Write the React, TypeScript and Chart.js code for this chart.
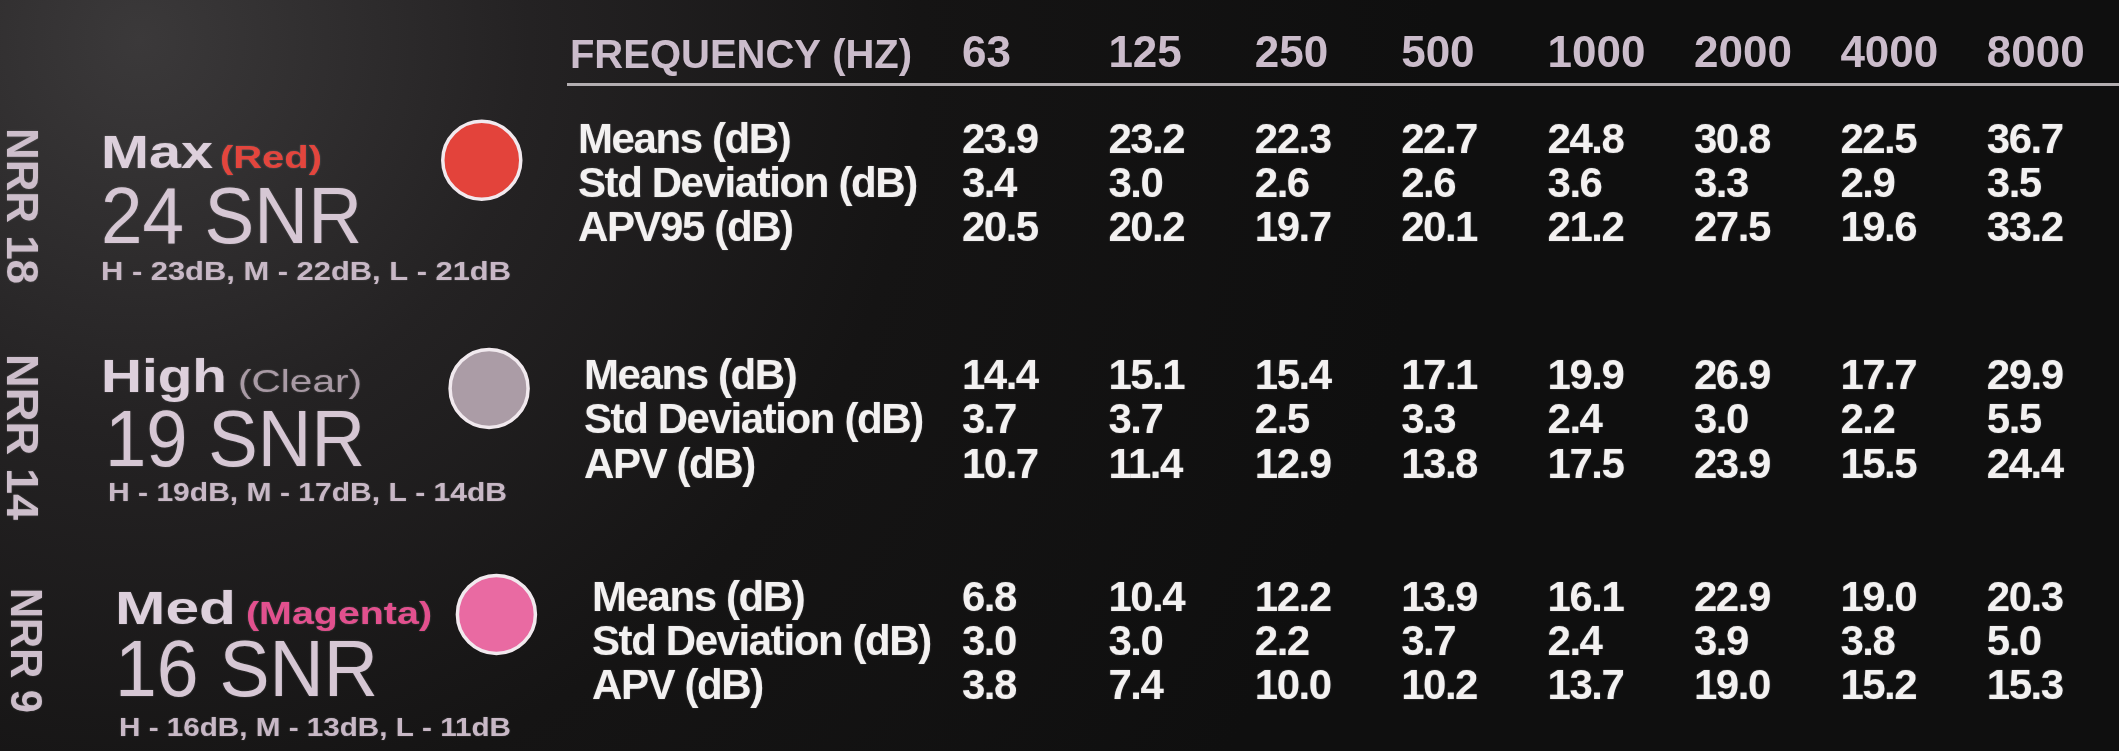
import React, { useEffect, useRef } from "react";
import { Chart, registerables } from "chart.js";

Chart.register(...registerables);

// ---------- data ----------
const FREQUENCIES = ["63", "125", "250", "500", "1000", "2000", "4000", "8000"];
const HEADER_LABEL = "FREQUENCY (HZ)";

const GROUP_NAMES = ["Max", "High", "Med"];
const GROUP_TAGS = ["(Red)", "(Clear)", "(Magenta)"];
const SNR_LABELS = ["24 SNR", "19 SNR", "16 SNR"];
const HML_LABELS = [
  "H - 23dB, M - 22dB, L - 21dB",
  "H - 19dB, M - 17dB, L - 14dB",
  "H - 16dB, M - 13dB, L - 11dB",
];
const NRR_LABELS = ["NRR 18", "NRR 14", "NRR 9"];

const MAX_ROW_LABELS = ["Means (dB)", "Std Deviation (dB)", "APV95 (dB)"];
const HIGH_ROW_LABELS = ["Means (dB)", "Std Deviation (dB)", "APV (dB)"];
const MED_ROW_LABELS = ["Means (dB)", "Std Deviation (dB)", "APV (dB)"];

const MAX_MEANS = [23.9, 23.2, 22.3, 22.7, 24.8, 30.8, 22.5, 36.7];
const MAX_STD = [3.4, 3.0, 2.6, 2.6, 3.6, 3.3, 2.9, 3.5];
const MAX_APV = [20.5, 20.2, 19.7, 20.1, 21.2, 27.5, 19.6, 33.2];

const HIGH_MEANS = [14.4, 15.1, 15.4, 17.1, 19.9, 26.9, 17.7, 29.9];
const HIGH_STD = [3.7, 3.7, 2.5, 3.3, 2.4, 3.0, 2.2, 5.5];
const HIGH_APV = [10.7, 11.4, 12.9, 13.8, 17.5, 23.9, 15.5, 24.4];

const MED_MEANS = [6.8, 10.4, 12.2, 13.9, 16.1, 22.9, 19.0, 20.3];
const MED_STD = [3.0, 3.0, 2.2, 3.7, 2.4, 3.9, 3.8, 5.0];
const MED_APV = [3.8, 7.4, 10.0, 10.2, 13.7, 19.0, 15.2, 15.3];

const CIRCLE_COLORS = ["#e3433b", "#ab9ca6", "#e96aa2"];
const TAG_COLORS = ["#e3453d", "#a99aa5", "#e2508e"];

// ---------- layout ----------
const W = 2119;
const H = 751;
const FONT = "'Liberation Sans', Arial, sans-serif";
const GROUP_OFFSETS = [0.05, 5.4, 10.42];
const X_MIN = -2.691;
const X_MAX = 7.903;
const HEADER_X = -2.678;
const Y_MIN = -1.159;
const Y_MAX = 13.934;
const CIRCLE_XS = [-3.28, -3.23, -3.18];
const CIRCLE_YS = [0.55, 5.72, 10.84];
const CIRCLE_R = 39;
const ROW_LABEL_X = [-2.623, -2.582, -2.527];

const LEFT_BLOCK = [
  { tx: 101, tb: 168, tw: 112, gx: 220, gw: 102, gBold: true, sx: 101, sb: 243, sw: 261, hx: 101, hb: 280, hw: 410, ncx: 23, ntop: 128, nlen: 156 },
  { tx: 101, tb: 392, tw: 126, gx: 238, gw: 124, gBold: false, sx: 105, sb: 466, sw: 260, hx: 108, hb: 501, hw: 399, ncx: 23, ntop: 354, nlen: 166 },
  { tx: 115, tb: 624, tw: 121, gx: 246, gw: 186, gBold: true, sx: 115, sb: 696, sw: 263, hx: 119, hb: 736, hw: 392, ncx: 27, ntop: 588, nlen: 125 },
];

const GROUP_ROWS = [
  { labels: MAX_ROW_LABELS, rows: [MAX_MEANS, MAX_STD, MAX_APV] },
  { labels: HIGH_ROW_LABELS, rows: [HIGH_MEANS, HIGH_STD, HIGH_APV] },
  { labels: MED_ROW_LABELS, rows: [MED_MEANS, MED_STD, MED_APV] },
];

function fitText(ctx: CanvasRenderingContext2D, text: string, x: number, y: number, width: number) {
  const m = ctx.measureText(text).width;
  const s = m > 0 ? width / m : 1;
  ctx.save();
  ctx.translate(x, y);
  ctx.scale(s, 1);
  ctx.fillText(text, 0, 0);
  ctx.restore();
}

const backgroundPlugin = {
  id: "bgPhoto",
  beforeDraw(chart: any) {
    const ctx = chart.ctx as CanvasRenderingContext2D;
    ctx.save();
    const g = ctx.createRadialGradient(140, 40, 0, 140, 40, 1300);
    g.addColorStop(0, "#3b393a");
    g.addColorStop(0.3, "#242223");
    g.addColorStop(0.6, "#151414");
    g.addColorStop(1, "#0f0f0f");
    ctx.fillStyle = g;
    ctx.fillRect(0, 0, chart.width, chart.height);
    ctx.restore();
  },
};

const tablePlugin = {
  id: "tableText",
  afterDatasetsDraw(chart: any) {
    const ctx = chart.ctx as CanvasRenderingContext2D;
    const xs = chart.scales.x;
    const ys = chart.scales.y;
    const fullArea = { left: 0, top: 0, right: chart.width, bottom: chart.height };

    // colour swatches (bubble points) sit left of the table area: draw them with a full-canvas area
    chart.data.datasets.forEach((ds: any, di: number) => {
      if (!ds.isSwatch) return;
      const meta = chart.getDatasetMeta(di);
      meta.data.forEach((el: any) => el.draw(ctx, fullArea));
    });

    ctx.save();
    ctx.textAlign = "left";
    ctx.textBaseline = "alphabetic";
    ctx.shadowColor = "rgba(255,255,255,0.25)";
    ctx.shadowBlur = 2;

    // value cells, positioned by their (invisible) points
    ctx.font = `bold 42px ${FONT}`;
    (ctx as any).letterSpacing = "-1.5px";
    ctx.fillStyle = "#f3f1f1";
    chart.data.datasets.forEach((ds: any, di: number) => {
      if (!ds.isCell) return;
      const meta = chart.getDatasetMeta(di);
      meta.data.forEach((pt: any, j: number) => {
        const v = ds.data[j].v as number;
        ctx.fillText(v.toFixed(1), pt.x, pt.y + 15);
      });
    });

    // row labels
    ctx.font = `bold 42px ${FONT}`;
    (ctx as any).letterSpacing = "-1.4px";
    GROUP_ROWS.forEach((grp, gi) => {
      grp.labels.forEach((lab, ri) => {
        const x = xs.getPixelForValue(ROW_LABEL_X[gi]);
        const y = ys.getPixelForValue(GROUP_OFFSETS[gi] + ri);
        ctx.fillText(lab, x, y + 15);
      });
    });
    (ctx as any).letterSpacing = "0px";

    // left block titles
    LEFT_BLOCK.forEach((b, gi) => {
      ctx.fillStyle = "#ddd0dc";
      ctx.font = `bold 46px ${FONT}`;
      fitText(ctx, GROUP_NAMES[gi], b.tx, b.tb, b.tw);

      ctx.fillStyle = TAG_COLORS[gi];
      ctx.font = `${b.gBold ? "bold " : ""}32px ${FONT}`;
      fitText(ctx, GROUP_TAGS[gi], b.gx, b.tb, b.gw);

      ctx.fillStyle = "#d6c7d4";
      ctx.font = `80px ${FONT}`;
      fitText(ctx, SNR_LABELS[gi], b.sx, b.sb, b.sw);

      ctx.fillStyle = "#c8b8c6";
      ctx.font = `bold 26px ${FONT}`;
      fitText(ctx, HML_LABELS[gi], b.hx, b.hb, b.hw);

      ctx.fillStyle = "#cdbecb";
      ctx.font = `bold 44px ${FONT}`;
      const cap = 32;
      ctx.save();
      ctx.translate(b.ncx - cap / 2, b.ntop);
      ctx.rotate(Math.PI / 2);
      fitText(ctx, NRR_LABELS[gi], 0, 0, b.nlen);
      ctx.restore();
    });

    ctx.restore();
  },
};

export default function App() {
  const ref = useRef<HTMLCanvasElement | null>(null);

  useEffect(() => {
    document.body.style.margin = "0";
    document.body.style.background = "#0f0f0f";
    const canvas = ref.current;
    if (!canvas) return;

    const datasets: any[] = [];
    GROUP_ROWS.forEach((grp, gi) => {
      grp.rows.forEach((row, ri) => {
        datasets.push({
          type: "scatter",
          label: `${GROUP_NAMES[gi]} – ${grp.labels[ri]}`,
          isCell: true,
          data: row.map((v, i) => ({ x: i, y: GROUP_OFFSETS[gi] + ri, v })),
          pointRadius: 0,
          pointHoverRadius: 0,
          showLine: false,
        });
      });
    });
    datasets.push({
      type: "bubble",
      label: "Colour",
      isSwatch: true,
      data: GROUP_NAMES.map((_, gi) => ({ x: CIRCLE_XS[gi], y: CIRCLE_YS[gi], r: CIRCLE_R })),
      backgroundColor: CIRCLE_COLORS,
      borderColor: "#f1e9ee",
      borderWidth: 3.5,
      hoverRadius: 0,
      clip: false,
    });

    const chart = new Chart(canvas, {
      type: "scatter",
      data: { datasets },
      options: {
        responsive: false,
        animation: false,
        events: [],
        layout: { autoPadding: false, padding: { left: 568, right: 0, top: 24, bottom: 0 } },
        plugins: { legend: { display: false }, tooltip: { enabled: false } },
        scales: {
          x: {
            type: "linear",
            position: "top",
            min: X_MIN,
            max: X_MAX,
            afterBuildTicks: (s: any) => {
              s.ticks = [{ value: HEADER_X }, ...FREQUENCIES.map((_, i) => ({ value: i }))];
            },
            ticks: {
              autoSkip: false,
              maxRotation: 0,
              minRotation: 0,
              align: "start",
              padding: 4,
              color: "#cbbccb",
              callback: (_v: any, idx: number) => (idx === 0 ? HEADER_LABEL : FREQUENCIES[idx - 1]),
              font: (c: any) =>
                c.index === 0
                  ? { family: FONT, size: 40, weight: "bold" }
                  : { family: FONT, size: 44, weight: "bold" },
            },
            grid: { display: false, drawTicks: false },
            border: { display: true, color: "#b3aeb1", width: 3, dash: [4, 2] },
          },
          y: { type: "linear", reverse: true, min: Y_MIN, max: Y_MAX, display: false },
        },
      } as any,
      plugins: [backgroundPlugin, tablePlugin],
    });
    return () => chart.destroy();
  }, []);

  return (
    <div style={{ width: W, height: H, position: "relative" }}>
      <canvas ref={ref} width={W} height={H} style={{ display: "block" }} />
    </div>
  );
}
